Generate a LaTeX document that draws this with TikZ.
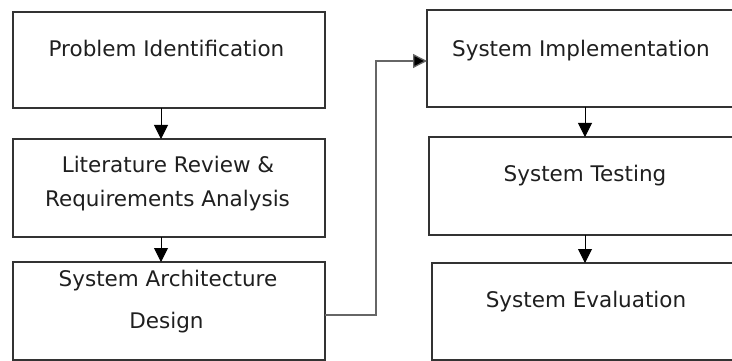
\documentclass[tikz,border=0pt]{standalone}
\usepackage{fontspec}
\setmainfont{DejaVu Sans}
\usetikzlibrary{arrows.meta}

\tikzset{
  stepbox/.style={draw=black!80, line width=1.3pt, fill=white, rectangle,
    inner sep=0pt, outer sep=0pt},
  lbl/.style={anchor=base, inner sep=0pt, text=black!88,
    font=\fontsize{21.5}{26}\selectfont},
  flow/.style={draw=black, line width=1pt,
    -{Triangle[length=14pt,width=14pt]}},
  link/.style={draw=black!60, line width=1.3pt,
    -{Triangle[length=14pt,width=14pt,fill=black]}}
}

\begin{document}
\begin{tikzpicture}[x=1pt, y=-1pt]
  \useasboundingbox (0,0) rectangle (732,361);
  \fill[white] (0,0) rectangle (732,361);

  % left column
  \node[stepbox, minimum width=312pt, minimum height=96pt] (b1) at (169,60) {};
  \node[stepbox, minimum width=312pt, minimum height=98pt] (b2) at (169,188) {};
  \node[stepbox, minimum width=312pt, minimum height=98pt] (b3) at (169,311) {};

  % right column
  \node[stepbox, minimum width=316pt, minimum height=97pt] (b4) at (585,58.5) {};
  \node[stepbox, minimum width=312pt, minimum height=98pt] (b5) at (585,186) {};
  \node[stepbox, minimum width=306pt, minimum height=97pt] (b6) at (585,311.5) {};

  % labels
  \node[lbl] (t1)  at (166.5,57)   {Problem Identification};
  \node[lbl] (t2a) at (168,172.7)  {Literature Review \&};
  \node[lbl] (t2b) at (167.5,206)  {Requirements Analysis};
  \node[lbl] (t3a) at (168,286)    {System Architecture};
  \node[lbl] (t3b) at (166.5,328)  {Design};
  \node[lbl] (t4)  at (581,56.7)   {System Implementation};
  \node[lbl] (t5)  at (585,181.7)  {System Testing};
  \node[lbl] (t6)  at (586,307.3)  {System Evaluation};

  % arrows down each column
  \draw[flow] ([xshift=-8pt]b1.south) -- ([xshift=-8pt]b2.north);
  \draw[flow] ([xshift=-8pt]b2.south) -- ([xshift=-8pt]b3.north);
  \draw[flow] (b4.south) -- (b5.north);
  \draw[flow] (b5.south) -- (b6.north);

  % link from the left column to the right column
  \draw[link] ([yshift=-4pt]b3.east) -- ++(51pt,0) |- ([yshift=-2.5pt]b4.west);
\end{tikzpicture}
\end{document}
